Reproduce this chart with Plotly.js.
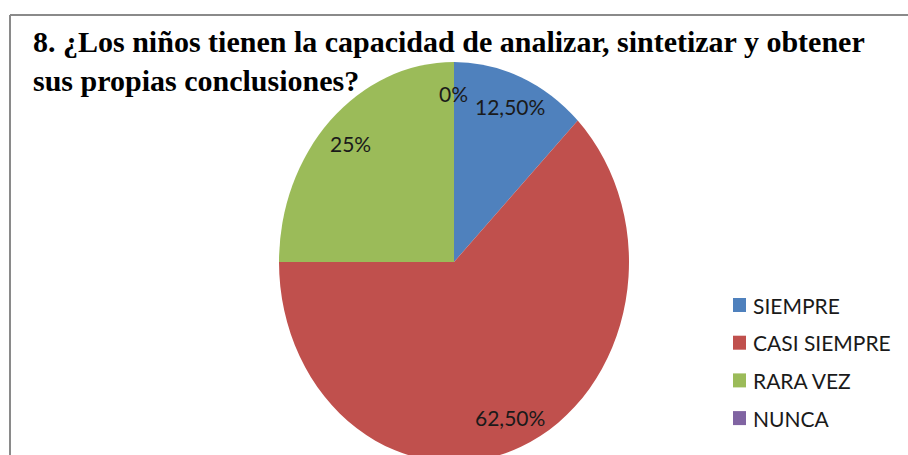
<!DOCTYPE html>
<html>
<head>
<meta charset="utf-8">
<script src="https://cdn.plot.ly/plotly-3.0.1.min.js"></script>
<style>
  html, body { margin: 0; padding: 0; background: #ffffff; overflow: hidden; }
  #chart { width: 908px; height: 455px; }
</style>
</head>
<body>
<div id="chart"></div>
<script>
// ---- data ----
const categories = ["SIEMPRE", "CASI SIEMPRE", "RARA VEZ", "NUNCA"];
const values = [12.5, 62.5, 25, 0];
const titleText = "8. ¿Los niños tienen la capacidad de analizar, sintetizar y obtener<br>sus propias conclusiones?";

// ---- style ----
const sliceColors = ["#4F81BD", "#C0504D", "#9BBB59", "#8064A2"];
const W = 908, H = 455;
const CX = 454, CY = 262, RX = 175, RY = 200;
const SY = RY / RX;
const labelFont = { family: "Lato, 'Open Sans', sans-serif", size: 21, color: "#1a1a1a" };

function fmtPct(v) {
  const s = Number.isInteger(v) ? String(v) : v.toFixed(2);
  return s.replace(".", ",") + "%";
}

const total = values.reduce((a, b) => a + b, 0);
const annotations = [];
let cum = 0;
values.forEach((v, i) => {
  const mid = (cum + v / 2) / total * 2 * Math.PI;
  cum += v;
  const r = 0.84;
  const px = CX + r * RX * Math.sin(mid);
  const py = CY - r * RY * Math.cos(mid);
  annotations.push({
    xref: "paper", yref: "paper", x: px / W, y: 1 - py / H,
    xanchor: "center", yanchor: "middle", showarrow: false,
    text: fmtPct(v / total * 100), font: labelFont
  });
});

// manual legend
const shapes = [];
categories.forEach((c, i) => {
  const yc = 305 + 37.7 * i;
  shapes.push({
    type: "rect", xref: "paper", yref: "paper",
    x0: 733 / W, x1: 746 / W, y0: 1 - (yc + 7) / H, y1: 1 - (yc - 7) / H,
    fillcolor: sliceColors[i], line: { width: 0 }
  });
  annotations.push({
    xref: "paper", yref: "paper", x: 751 / W, y: 1 - yc / H,
    xanchor: "left", yanchor: "middle", showarrow: false,
    text: c, font: labelFont
  });
});

// chart border (top + left)
shapes.push({ type: "line", xref: "paper", yref: "paper", x0: 10 / W, x1: 1, y0: 1 - 15 / H, y1: 1 - 15 / H, line: { color: "#8a8a8a", width: 2 } });
shapes.push({ type: "line", xref: "paper", yref: "paper", x0: 10 / W, x1: 10 / W, y0: 0, y1: 1 - 15 / H, line: { color: "#8a8a8a", width: 2 } });

const trace = {
  type: "pie",
  labels: categories,
  values: values,
  sort: false,
  direction: "clockwise",
  rotation: 0,
  textinfo: "none",
  hoverinfo: "label+percent",
  marker: { colors: sliceColors, line: { width: 0 } },
  domain: { x: [(CX - RX) / W, (CX + RX) / W], y: [(H - (CY + RX)) / H, (H - (CY - RX)) / H] },
  showlegend: false
};

const layout = {
  width: W, height: H,
  margin: { l: 0, r: 0, t: 0, b: 0 },
  paper_bgcolor: "#ffffff",
  plot_bgcolor: "#ffffff",
  title: {
    text: "<b>" + titleText + "</b>",
    x: 33 / W, xref: "paper", xanchor: "left",
    y: 1 - 52 / H, yref: "paper", yanchor: "top",
    font: { family: "'Liberation Serif', 'Times New Roman', serif", size: 30, color: "#000000" }
  },
  showlegend: false,
  annotations: annotations,
  shapes: shapes
};

Plotly.newPlot("chart", [trace], layout, { displayModeBar: false, staticPlot: true }).then(gd => {
  const cd0 = gd.calcdata[0][0];
  const cy = cd0.cy;
  document.querySelectorAll(".pielayer path.surface").forEach(p => {
    p.setAttribute("transform", "matrix(1,0,0," + SY + ",0," + (cy * (1 - SY)) + ")");
  });
});
</script>
</body>
</html>
